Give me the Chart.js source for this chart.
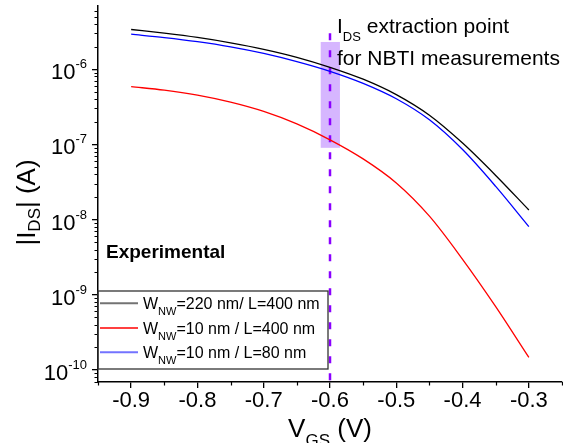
<!DOCTYPE html>
<html><head><meta charset="utf-8">
<script src="https://cdn.jsdelivr.net/npm/chart.js@4"></script>
<style>html,body{margin:0;padding:0;background:#fff}canvas{display:block}</style>
</head><body>
<canvas id="c" width="563" height="443" style="width:563px;height:443px"></canvas>
<script>
// ---- data ----
const vgs = [-0.9,-0.85,-0.8,-0.75,-0.7,-0.65,-0.6,-0.55,-0.5,-0.45,-0.4,-0.35,-0.3];
const idsW220L400 = [3.37e-6,3.01e-6,2.64e-6,2.24e-6,1.84e-6,1.44e-6,1.06e-6,7.36e-7,4.59e-7,2.44e-7,1.04e-7,3.86e-8,1.34e-8];
const idsW10L400  = [5.86e-7,5.26e-7,4.51e-7,3.64e-7,2.74e-7,1.87e-7,1.15e-7,6.41e-8,3.07e-8,1.11e-8,2.96e-9,6.95e-10,1.47e-10];
const idsW10L80   = [2.92e-6,2.63e-6,2.32e-6,1.98e-6,1.62e-6,1.26e-6,9.36e-7,6.47e-7,4.04e-7,2.12e-7,8.53e-8,2.76e-8,8.05e-9];
const xTickValues = [-0.9,-0.8,-0.7,-0.6,-0.5,-0.4,-0.3];
const xMinorTickValues = [-0.95,-0.85,-0.75,-0.65,-0.55,-0.45,-0.35,-0.25];
const yDecadeExponents = [-10,-9,-8,-7,-6];
const legendMain = ['W','W','W'];
const legendSub = ['NW','NW','NW'];
const legendRest = ['=220 nm/ L=400 nm','=10 nm / L=400 nm','=10 nm / L=80 nm'];
const extractionV = -0.6;
const extractionTop = 3.0e-6;
const bandX = [-0.614,-0.585];
const bandY = [9.0e-8,2.3e-6];
const xMin = -0.95, xMax = -0.25, yMin = 6.92e-11, yMax = 6.92e-6;

const FONT = "'Liberation Sans', Arial, Helvetica, sans-serif";
const colors = ['#000000','#ff0000','#0000ff'];

function drawSubText(ctx, x, y, parts) {
  let cx = x;
  for (const p of parts) {
    ctx.font = (p[3] ? 'bold ' : '') + p[1] + 'px ' + FONT;
    ctx.fillText(p[0], cx, y + p[2]);
    cx += ctx.measureText(p[0]).width;
  }
  return cx - x;
}
function measureParts(ctx, parts) {
  let w = 0;
  for (const p of parts) { ctx.font = (p[3] ? 'bold ' : '') + p[1] + 'px ' + FONT; w += ctx.measureText(p[0]).width; }
  return w;
}

const decor = {
  id: 'decor',
  beforeDatasetsDraw(chart) {
    const ctx = chart.ctx, xs = chart.scales.x, ys = chart.scales.y;
    const x0 = xs.getPixelForValue(bandX[0]), x1 = xs.getPixelForValue(bandX[1]);
    const y0 = ys.getPixelForValue(bandY[1]), y1 = ys.getPixelForValue(bandY[0]);
    ctx.save();
    ctx.fillStyle = '#d6b6ff';
    ctx.fillRect(x0, y0, x1 - x0, y1 - y0);
    ctx.restore();
  },
  afterDraw(chart) {
    const ctx = chart.ctx, xs = chart.scales.x, ys = chart.scales.y, ca = chart.chartArea;
    ctx.save();
    ctx.strokeStyle = '#000'; ctx.lineWidth = 1.2;
    ctx.beginPath();
    for (const v of xMinorTickValues) {
      const px = Math.round(xs.getPixelForValue(v)) + 0.5;
      ctx.moveTo(px, ca.bottom); ctx.lineTo(px, ca.bottom + 3.5);
    }
    for (let e = -11; e <= -6; e++) {
      for (let m = 2; m <= 9; m++) {
        const v = m * Math.pow(10, e);
        if (v < yMin || v > yMax) continue;
        const py = Math.round(ys.getPixelForValue(v)) + 0.5;
        ctx.moveTo(ca.left - 3.5, py); ctx.lineTo(ca.left, py);
      }
    }
    ctx.stroke();
    ctx.fillStyle = '#000';
    ctx.textBaseline = 'alphabetic';
    for (const e of yDecadeExponents) {
      const py = ys.getPixelForValue(Math.pow(10, e));
      const ex = String(e);
      ctx.textAlign = 'right';
      ctx.font = '13px ' + FONT;
      const w = ctx.measureText(ex).width;
      ctx.fillText(ex, 87, py - 1);
      ctx.font = '22px ' + FONT;
      ctx.fillText('10', 87 - w, py + 10);
    }
    ctx.textAlign = 'left';
    const xt = [['V',26,0],['GS',17,9],[' (V)',26,0]];
    const xw = measureParts(ctx, xt);
    drawSubText(ctx, (ca.left + ca.right) / 2 - xw / 2, 437, xt);
    const yt = [['|I',26,0],['DS',17,5],['| (A)',26,0]];
    const yw = measureParts(ctx, yt);
    ctx.save();
    ctx.translate(34.5, 202.5);
    ctx.rotate(-Math.PI / 2);
    drawSubText(ctx, -yw / 2, 0, yt);
    ctx.restore();
    drawSubText(ctx, 337, 33, [['I',21,0],['DS',13,8],[' extraction point',21,0]]);
    drawSubText(ctx, 337, 65, [['for NBTI measurements',21,0]]);
    drawSubText(ctx, 106, 258, [['Experimental',19,0,true]]);
    ctx.strokeStyle = '#333'; ctx.lineWidth = 1.3;
    ctx.strokeRect(ca.left, 291, 230, 78);
    const rowsY = [309.3, 334, 358.3];
    for (let i = 0; i < 3; i++) {
      ctx.strokeStyle = colors[i]; ctx.lineWidth = i === 1 ? 1.3 : 2;
      ctx.globalAlpha = i === 1 ? 1 : 0.55;
      ctx.beginPath(); ctx.moveTo(100, rowsY[i] - 6); ctx.lineTo(138, rowsY[i] - 6); ctx.stroke();
      ctx.globalAlpha = 1;
      ctx.fillStyle = '#000';
      drawSubText(ctx, 143, rowsY[i], [[legendMain[i],16,0],[legendSub[i],11,6],[legendRest[i],16,0]]);
    }
    ctx.restore();
  }
};

new Chart(document.getElementById('c'), {
  type: 'line',
  data: { datasets: [
    { label: 'W_NW=220 nm/ L=400 nm', data: vgs.map((v,i)=>({x:v,y:idsW220L400[i]})), borderColor: colors[0], borderWidth: 1.3, pointRadius: 0, cubicInterpolationMode: 'monotone', fill: false },
    { label: 'W_NW=10 nm / L=400 nm', data: vgs.map((v,i)=>({x:v,y:idsW10L400[i]})), borderColor: colors[1], borderWidth: 1.3, pointRadius: 0, cubicInterpolationMode: 'monotone', fill: false },
    { label: 'W_NW=10 nm / L=80 nm', data: vgs.map((v,i)=>({x:v,y:idsW10L80[i]})), borderColor: colors[2], borderWidth: 1.3, pointRadius: 0, cubicInterpolationMode: 'monotone', fill: false },
    { label: 'extraction', data: [{x:extractionV,y:extractionTop},{x:extractionV,y:yMin}], borderColor: '#8a00ff', borderWidth: 2.5, borderDash: [7,10], pointRadius: 0, fill: false }
  ]},
  options: {
    responsive: false, animation: false, devicePixelRatio: 1,
    layout: { padding: { top: 6, right: 1, left: 0, bottom: 0 } },
    plugins: { legend: { display: false }, tooltip: { enabled: false } },
    scales: {
      x: {
        type: 'linear', min: xMin, max: xMax,
        afterBuildTicks: s => { s.ticks = xTickValues.map(v => ({ value: v })); },
        afterFit: s => { s.height = 61; },
        ticks: { font: { family: FONT, size: 22 }, color: '#000', padding: 0, maxRotation: 0, autoSkip: false, callback: v => Number(v).toFixed(1) },
        grid: { drawOnChartArea: false, drawTicks: true, tickLength: 6, color: '#000', lineWidth: 1.3 },
        border: { display: true, color: '#000', width: 1.5 }
      },
      y: {
        type: 'logarithmic', min: yMin, max: yMax,
        afterBuildTicks: s => { s.ticks = yDecadeExponents.map(e => ({ value: Math.pow(10, e) })); },
        afterFit: s => { s.width = 98; },
        ticks: { display: false },
        grid: { drawOnChartArea: false, drawTicks: true, tickLength: 6, color: '#000', lineWidth: 1.3 },
        border: { display: true, color: '#000', width: 1.5 }
      }
    }
  },
  plugins: [decor]
});
</script>
</body></html>
